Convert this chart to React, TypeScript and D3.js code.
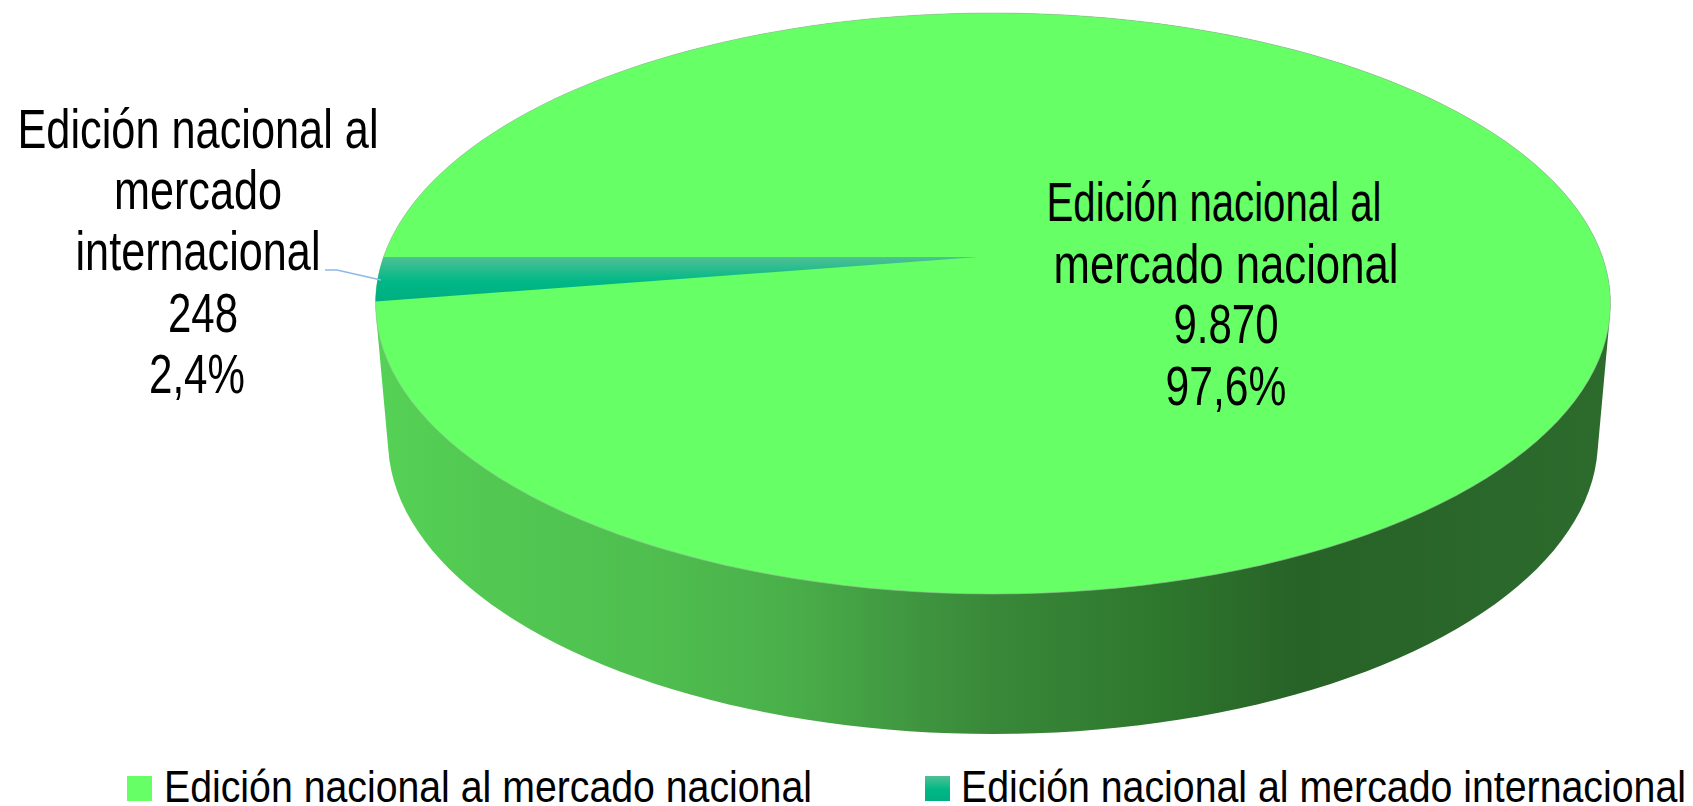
import React from "react";
import * as d3 from "d3";

const categories = ["Edición nacional al mercado nacional", "Edición nacional al mercado internacional"];
const values = [9870, 248];
const valueLabels = ["9.870", "248"];
const percentLabels = ["97,6%", "2,4%"];
const sideStops: [number, string][] = [
  [0, "#55d255"], [0.09, "#52c852"], [0.22, "#4fbf4f"], [0.33, "#4ab04a"], [0.41, "#429c42"], [0.5, "#398839"],
  [0.63, "#2e782e"], [0.75, "#276227"], [1, "#2d6b2d"],
];

const cx = 993, cy = 303, k = 609.5, a = 290.4, b = -46, c = -0.16;
const botCx = 993, botCy = 440, botRx = 605, botRy = 294;

const project = (t: number, r = 1): [number, number] => {
  const u = r * Math.sin(t), v = -r * Math.cos(t);
  const w = 1 + c * v;
  return [cx + (k * u) / w, cy + (a * v + b) / w];
};
const projectBottom = (t: number): [number, number] => [botCx + botRx * Math.sin(t), botCy - botRy * Math.cos(t)];

const pieGen = d3.pie<number>().sort(null).startAngle(1.5 * Math.PI).endAngle(3.5 * Math.PI);
const slices = pieGen(values);
const line = d3.line();
const sample = (s: number, e: number, f: (t: number) => [number, number]) =>
  d3.range(0, 181).map((i) => f(s + ((e - s) * i) / 180));

const apex = project(0, 0);
const apexX = apex[0] - 15;
const sectorPath = (s: number, e: number) => line([[apexX, apex[1]], ...sample(s, e, project)]) + "Z";
const topPath = line(sample(0, 2 * Math.PI, project)) + "Z";
const hull = d3.polygonHull([...sample(0, 2 * Math.PI, project), ...sample(0, 2 * Math.PI, projectBottom)])!;
const sidePath = line(hull) + "Z";

const F = "'Liberation Sans', Arial, sans-serif";

function T({ x, y, w, size, children, anchor = "middle" }: any) {
  return (
    <text x={x} y={y} fontSize={size} textAnchor={anchor} fontFamily={F} fill="#000" textLength={w} lengthAdjust="spacingAndGlyphs">
      {children}
    </text>
  );
}

export default function App() {
  const x0 = 376, x1 = 1610;
  return (
    <svg width={1693} height={806} style={{ position: "absolute", left: 0, top: 0 }}>
      <defs>
        <linearGradient id="side" gradientUnits="userSpaceOnUse" x1={x0} x2={x1} y1={0} y2={0}>
          {sideStops.map(([o, col]) => <stop key={o} offset={o} stopColor={col} />)}
        </linearGradient>
        <linearGradient id="teal" x1="0" x2="0" y1="0" y2="1">
          <stop offset="0" stopColor="#4fc095" />
          <stop offset="0.55" stopColor="#00b886" />
          <stop offset="1" stopColor="#00ae82" />
        </linearGradient>
      </defs>
      <path d={sidePath} fill="url(#side)" />
      <path d={topPath} fill="#66ff66" stroke="#9fbf9f" strokeWidth={0.6} />
      <path d={sectorPath(slices[1].startAngle, slices[1].endAngle)} fill="url(#teal)" />
      <polyline points="325,270 337,270 381,280" fill="none" stroke="#8db8ea" strokeWidth={1.5} />

      <T x={198} y={148} w={361} size={55}>Edición nacional al</T>
      <T x={198} y={209} w={168} size={55}>mercado</T>
      <T x={198} y={270} w={245} size={55}>internacional</T>
      <T x={203} y={332} w={70} size={55}>{valueLabels[1]}</T>
      <T x={197} y={393} w={96} size={55}>{percentLabels[1]}</T>

      <T x={1214} y={221} w={335} size={55}>Edición nacional al</T>
      <T x={1226} y={283} w={345} size={55}>mercado nacional</T>
      <T x={1226} y={343} w={105} size={55}>{valueLabels[0]}</T>
      <T x={1226} y={405} w={121} size={55}>{percentLabels[0]}</T>

      <rect x={127} y={776} width={25} height={25} fill="#66ff66" />
      <T x={164} y={802} w={648} size={45} anchor="start">{categories[0]}</T>
      <rect x={925} y={776} width={25} height={25} fill="url(#teal)" />
      <T x={961} y={802} w={725} size={45} anchor="start">{categories[1]}</T>
    </svg>
  );
}
